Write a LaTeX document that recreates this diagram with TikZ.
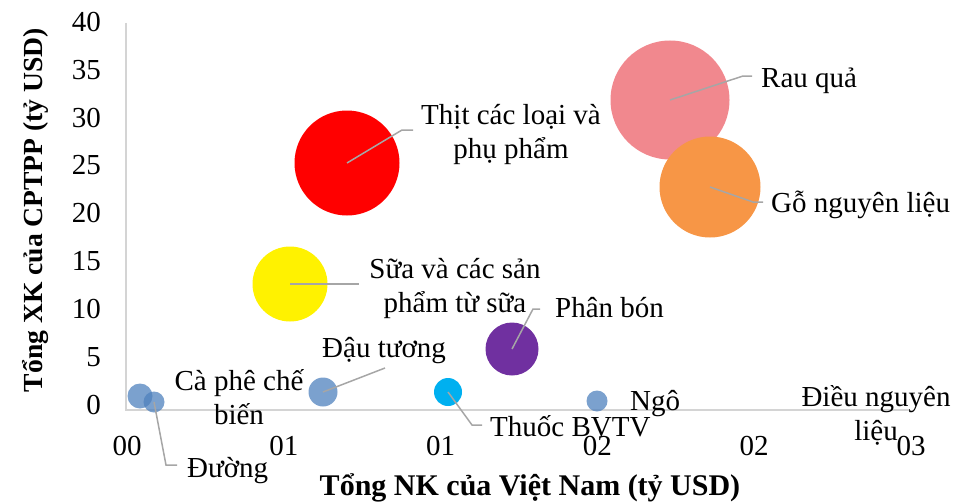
\documentclass[tikz,border=0pt]{standalone}
\usepackage{fontspec}
\setmainfont{Liberation Serif}
\definecolor{rauqua}{RGB}{241,136,142}
\definecolor{gocam}{RGB}{247,150,70}
\definecolor{tim}{RGB}{112,48,160}
\definecolor{xanhnhat}{RGB}{0,176,240}
\definecolor{xanh}{RGB}{79,129,189}
\begin{document}
\begin{tikzpicture}[x=1pt,y=-1pt,
    bubble/.style={circle,inner sep=0pt,draw=none},
    small/.style={bubble,fill=xanh,fill opacity=0.75},
    lbl/.style={font=\fontsize{29}{34}\selectfont,inner sep=0pt,align=center},
    tick/.style={font=\fontsize{29}{34}\selectfont,inner sep=0pt},
    title/.style={font=\fontsize{30}{34}\selectfont\bfseries,inner sep=0pt},
    leader/.style={draw=black!35,line width=1.5pt},
    axisline/.style={draw=black!17,line width=1.8pt}]
  \useasboundingbox (0,0) rectangle (955,503);

  \coordinate (o) at (126,410);
  \coordinate (ytop) at (126,23);
  \coordinate (xend) at (910,410);
  \draw[axisline] (ytop) -- (o) -- (xend);

  \foreach \v [count=\i from 0] in {0,5,...,40}
    \node[tick,anchor=east] (ytick\i) at (101,{405-47.9*\i}) {\v};
  \foreach \t [count=\i from 0] in {00,01,01,02,02,03}
    \node[tick,anchor=base] (xtick\i) at ({127+156.8*\i},455) {\t};

  \node[title,font=\fontsize{27.6}{34}\selectfont\bfseries,rotate=90,anchor=base] (ytitle) at (42,210) {Tổng XK của CPTPP (tỷ USD)};
  \node[title,anchor=base] (xtitle) at (530,495) {Tổng NK của Việt Nam (tỷ USD)};

  % bubbles
  \node[bubble,fill=rauqua,minimum size=119pt] (rau) at (670,100) {};
  \node[bubble,fill=gocam,minimum size=101pt] (go) at (710,187) {};
  \node[bubble,fill=red,minimum size=105pt] (thit) at (347,163) {};
  \node[bubble,fill=yellow,minimum size=75pt] (sua) at (290,284) {};
  \node[bubble,fill=tim,minimum size=53pt] (phan) at (512,349) {};
  \node[small,minimum size=29pt] (dau) at (323,392) {};
  \node[small,minimum size=25pt] (caphe) at (140,396) {};
  \node[small,minimum size=21pt] (duong) at (154,402) {};
  \node[bubble,fill=xanhnhat,minimum size=28pt] (thuoc) at (448,392) {};
  \node[small,minimum size=21pt] (ngo) at (597,401) {};

  % labels
  \node[lbl,anchor=base west] (lrau) at (761,87) {Rau quả};
  \node[lbl,anchor=base west] (lgo) at (771,212) {Gỗ nguyên liệu};
  \node[lbl] (lthit) at (511,135) {Thịt các loại và\\phụ phẩm};
  \node[lbl] (lsua) at (455,289) {Sữa và các sản\\phẩm từ sữa};
  \node[lbl,anchor=base west] (lphan) at (555,317) {Phân bón};
  \node[lbl,anchor=base west] (ldau) at (322,357) {Đậu tương};
  \node[lbl] (lcaphe) at (239,397) {Cà phê chế\\biến};
  \node[lbl,anchor=base west] (lduong) at (187,477) {Đường};
  \node[lbl,anchor=base west] (lthuoc) at (490,436) {Thuốc BVTV};
  \node[lbl,anchor=base west] (lngo) at (630,410) {Ngô};
  \node[lbl] (ldieu) at (876,415) {Điều nguyên\\liệu};

  % leader lines
  \draw[leader] (rau.center) -- ++(73,-24) -- ++(9,0);
  \draw[leader] (go.center) -- ++(43,15) -- ++(10,0);
  \draw[leader] (thit.center) -- ++(55,-33) -- ++(11,0);
  \draw[leader] (sua.center) -- ++(69,0);
  \draw[leader] (phan.center) -- ++(21,-40) -- ++(7,0);
  \draw[leader] (dau.center) -- ++(62,-24);
  \draw[leader] (duong.center) -- ++(12,63) -- ++(11,0);
  \draw[leader] (thuoc.center) -- ++(24,33) -- ++(10,0);
\end{tikzpicture}
\end{document}
